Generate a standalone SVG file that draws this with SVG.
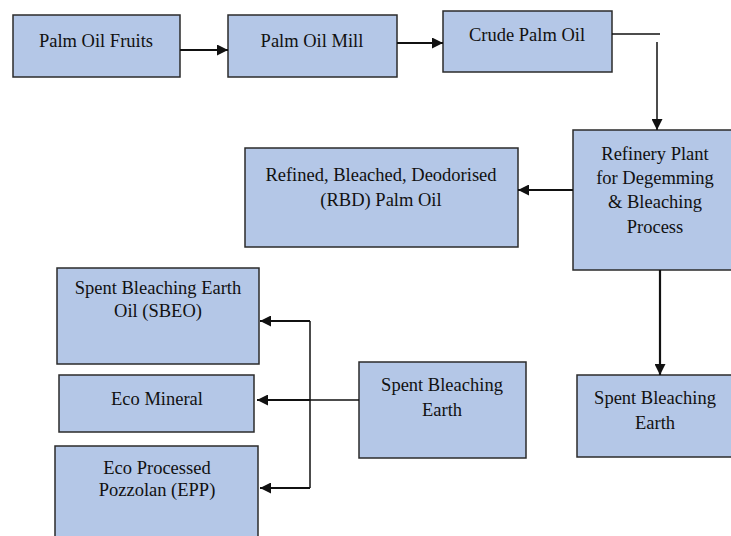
<svg xmlns="http://www.w3.org/2000/svg" width="731" height="536" viewBox="0 0 731 536">
<defs>
<style>
.box{fill:#b4c7e7;stroke:#2b2b2b;stroke-width:1.5}
.t{font-family:"Liberation Serif","Times New Roman",serif;font-size:18.5px;fill:#111;text-anchor:middle}
.c{fill:none;stroke:#111;stroke-width:2.2}
.ct{fill:none;stroke:#111;stroke-width:1.5}
</style>
<marker id="ah" viewBox="0 0 10 10" refX="10" refY="5" markerWidth="11" markerHeight="11" markerUnits="userSpaceOnUse" orient="auto">
<path d="M0,0 L10,5 L0,10 Z" fill="#111"/>
</marker>
</defs>
<rect width="731" height="536" fill="#fff"/>
<g id="n1"><rect class="box" x="13" y="15" width="167" height="62"/><text class="t" x="96" y="47">Palm Oil Fruits</text></g>
<g id="n2"><rect class="box" x="228" y="15" width="169" height="62"/><text class="t" x="312" y="47">Palm Oil Mill</text></g>
<g id="n3"><rect class="box" x="443" y="11" width="169" height="61"/><text class="t" x="527" y="41">Crude Palm Oil</text></g>
<g id="n4"><rect class="box" x="573" y="130" width="162" height="140"/><text class="t" x="655" y="160">Refinery Plant</text><text class="t" x="655" y="184">for Degemming</text><text class="t" x="655" y="208">&amp; Bleaching</text><text class="t" x="655" y="233">Process</text></g>
<g id="n5"><rect class="box" x="245" y="148" width="273" height="99"/><text class="t" x="381" y="181">Refined, Bleached, Deodorised</text><text class="t" x="381" y="206">(RBD) Palm Oil</text></g>
<g id="n6"><rect class="box" x="577" y="375" width="158" height="82"/><text class="t" x="655" y="404">Spent Bleaching</text><text class="t" x="655" y="429">Earth</text></g>
<g id="n7"><rect class="box" x="359" y="362" width="167" height="96"/><text class="t" x="442" y="391">Spent Bleaching</text><text class="t" x="442" y="416">Earth</text></g>
<g id="n8"><rect class="box" x="57" y="268" width="202" height="96"/><text class="t" x="158" y="294">Spent Bleaching Earth</text><text class="t" x="158" y="317">Oil (SBEO)</text></g>
<g id="n9"><rect class="box" x="59" y="375" width="195" height="57"/><text class="t" x="157" y="405">Eco Mineral</text></g>
<g id="n10"><rect class="box" x="55" y="446" width="203" height="100"/><text class="t" x="157" y="474">Eco Processed</text><text class="t" x="157" y="496">Pozzolan (EPP)</text></g>
<g id="connectors">
<line class="c" x1="180" y1="50" x2="228" y2="50" marker-end="url(#ah)"/>
<line class="c" x1="397" y1="43" x2="443" y2="43" marker-end="url(#ah)"/>
<line class="ct" x1="612" y1="34" x2="660" y2="34"/>
<line class="ct" x1="657" y1="42" x2="657" y2="130" marker-end="url(#ah)"/>
<line class="c" x1="573" y1="190" x2="518" y2="190" marker-end="url(#ah)"/>
<line class="c" x1="660" y1="270" x2="660" y2="375" marker-end="url(#ah)"/>
<line class="ct" x1="359" y1="400" x2="310" y2="400"/>
<polyline class="ct" points="310,321 310,488"/>
<line class="c" x1="310" y1="321" x2="260" y2="321" marker-end="url(#ah)"/>
<line class="c" x1="310" y1="400" x2="257" y2="400" marker-end="url(#ah)"/>
<line class="c" x1="310" y1="488" x2="260" y2="488" marker-end="url(#ah)"/>
</g>
</svg>
